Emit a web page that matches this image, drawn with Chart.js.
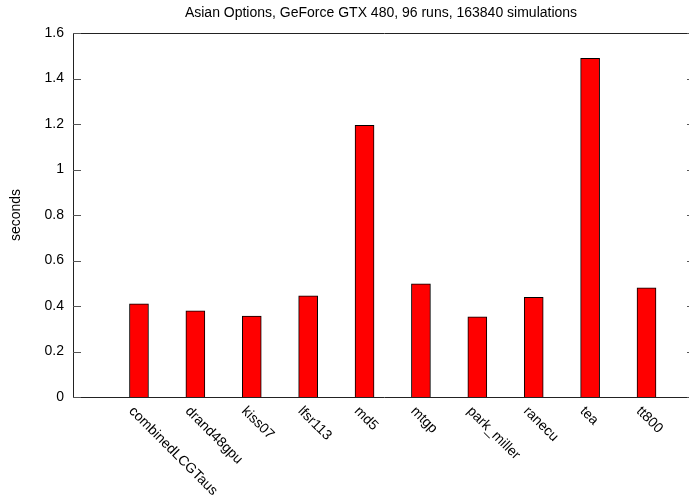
<!DOCTYPE html>
<html>
<head>
<meta charset="utf-8">
<script src="https://cdn.jsdelivr.net/npm/chart.js@4.4.1/dist/chart.umd.min.js"></script>
<style>
  html, body { margin: 0; padding: 0; background: #fff; }
  #wrap { width: 689px; height: 496px; position: relative; overflow: hidden; }
  #c { display: block; }
</style>
</head>
<body>
<div id="wrap"><canvas id="c" width="695" height="496"></canvas></div>
<script>
// RNG benchmark: Asian option pricing time per generator
const generators = ['combinedLCGTaus', 'drand48gpu', 'kiss07', 'lfsr113', 'md5',
                    'mtgp', 'park_miller', 'ranecu', 'tea', 'tt800'];
const seconds = [0.410, 0.379, 0.356, 0.445, 1.194, 0.497, 0.352, 0.438, 1.489, 0.480];
const yTicks = [0, 0.2, 0.4, 0.6, 0.8, 1, 1.2, 1.4, 1.6];
const titleText = 'Asian Options, GeForce GTX 480, 96 runs, 163840 simulations';
const yTitle = 'seconds';

const FONT = 'Liberation Sans, Arial, Helvetica, sans-serif';
const VISIBLE_WIDTH = 689;

// gnuplot-style frame: border, inward ticks on both sides, rotated category labels, title
const frame = {
  id: 'frame',
  afterDraw(chart) {
    const { ctx, chartArea: a, scales } = chart;
    const ys = scales.y, xs = scales.x;
    ctx.save();
    ctx.strokeStyle = '#222';
    ctx.lineWidth = 1;
    ctx.beginPath();
    ctx.rect(Math.round(a.left) + 0.5, Math.round(a.top) + 0.5,
             Math.round(a.right - a.left), Math.round(a.bottom - a.top));
    ctx.stroke();
    // inward ticks on left and right borders
    ctx.strokeStyle = '#555';
    yTicks.forEach(v => {
      const py = Math.round(ys.getPixelForValue(v)) + 0.5;
      ctx.beginPath();
      ctx.moveTo(a.left, py); ctx.lineTo(a.left + 8, py);
      ctx.moveTo(a.right, py); ctx.lineTo(a.right - 8, py);
      ctx.stroke();
    });
    // category labels rotated clockwise
    ctx.fillStyle = '#000';
    ctx.font = '14px ' + FONT;
    ctx.textAlign = 'left';
    ctx.textBaseline = 'middle';
    generators.forEach((g, i) => {
      const px = xs.getPixelForValue(i);
      ctx.save();
      ctx.translate(px - 8, a.bottom + 12);
      ctx.rotate(Math.PI / 4);
      ctx.fillText(g, 0, 0);
      ctx.restore();
    });
    // title, centred over the visible part of the frame
    ctx.textAlign = 'center';
    ctx.textBaseline = 'middle';
    ctx.fillText(titleText, (a.left + VISIBLE_WIDTH) / 2, 13);
    ctx.restore();
  }
};

new Chart(document.getElementById('c'), {
  type: 'bar',
  data: {
    datasets: [{
      data: seconds.map((v, i) => ({ x: i, y: v })),
      backgroundColor: '#ff0000',
      borderColor: '#000000',
      borderWidth: 1,
      barThickness: 19
    }]
  },
  options: {
    responsive: false,
    animation: false,
    devicePixelRatio: 1,
    layout: { padding: { top: 33, right: 0, bottom: 0, left: 0 } },
    plugins: { legend: { display: false }, tooltip: { enabled: false }, title: { display: false } },
    scales: {
      x: {
        type: 'linear',
        min: -1.17,
        max: 9.86,
        offset: false,
        grid: { display: false, drawTicks: false },
        border: { display: false },
        ticks: { display: false },
        afterFit(scale) { scale.height = 99; }
      },
      y: {
        min: 0,
        max: 1.6,
        grid: { display: false, drawTicks: false },
        border: { display: false },
        afterBuildTicks(scale) { scale.ticks = yTicks.map(v => ({ value: v })); },
        ticks: {
          color: '#000',
          font: { family: FONT, size: 14 },
          padding: 9,
          callback: v => String(v)
        },
        title: {
          display: true,
          text: yTitle,
          color: '#000',
          font: { family: FONT, size: 14 },
          padding: { top: 8, bottom: 0 }
        },
        afterFit(scale) { scale.width = 73; }
      }
    }
  },
  plugins: [frame]
});
</script>
</body>
</html>
